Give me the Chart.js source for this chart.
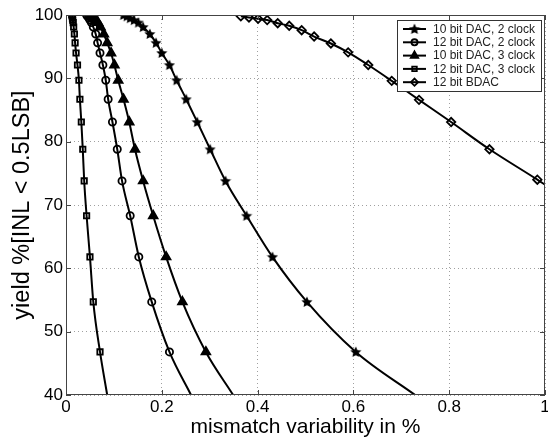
<!DOCTYPE html>
<html>
<head>
<meta charset="utf-8">
<script src="https://cdn.jsdelivr.net/npm/chart.js@4"></script>
<style>
  html, body { margin: 0; padding: 0; background: #fff; }
  #wrap { width: 548px; height: 441px; }
</style>
</head>
<body>
<div id="wrap"><canvas id="yieldChart" width="548" height="441"></canvas></div>
<script>
const FONT = "'Liberation Sans', Arial, Helvetica, sans-serif";

// yield levels where the markers sit (same for the four DAC curves), last one = end of line
const yieldLevels = [100, 99.8, 99.5, 99.2, 98.8, 98.1, 97.0, 95.6, 94.0, 92.1, 89.7, 86.7, 83.1, 78.8, 73.8, 68.3, 61.8, 54.7, 46.8, 40];

const dac10clk2 = [0.120, 0.127, 0.134, 0.142, 0.151, 0.161, 0.175, 0.188, 0.200, 0.216, 0.231, 0.251, 0.274, 0.301, 0.333, 0.377, 0.431, 0.503, 0.605, 0.729];
const dac12clk2 = [0.043, 0.045, 0.048, 0.050, 0.053, 0.057, 0.062, 0.066, 0.071, 0.077, 0.083, 0.088, 0.097, 0.107, 0.117, 0.134, 0.152, 0.179, 0.216, 0.261];
const dac10clk3 = [0.052, 0.055, 0.059, 0.063, 0.067, 0.072, 0.079, 0.086, 0.094, 0.101, 0.109, 0.120, 0.132, 0.144, 0.161, 0.182, 0.209, 0.243, 0.292, 0.349];
const dac12clk3 = [0.012, 0.013, 0.0135, 0.014, 0.015, 0.016, 0.0175, 0.019, 0.021, 0.024, 0.027, 0.029, 0.032, 0.035, 0.038, 0.043, 0.050, 0.057, 0.071, 0.086];

const bdacX = [0.365, 0.382, 0.401, 0.420, 0.442, 0.466, 0.492, 0.518, 0.553, 0.589, 0.631, 0.680, 0.737, 0.804, 0.884, 0.984, 1.0];
const bdacY = [99.8, 99.6, 99.4, 99.2, 98.7, 98.3, 97.6, 96.6, 95.5, 94.1, 92.1, 89.6, 86.6, 83.1, 78.8, 74.0, 73.2];

const xTicks = [0, 0.2, 0.4, 0.6, 0.8, 1];
const yTicks = [40, 50, 60, 70, 80, 90, 100];

// filled star marker
function starMarker() {
    const c = document.createElement('canvas');
    c.width = 12; c.height = 12;
    const g = c.getContext('2d');
    g.fillStyle = '#000';
    g.beginPath();
    for (let i = 0; i < 10; i++) {
        const r = i % 2 === 0 ? 5.8 : 2.8;
        const a = -Math.PI / 2 + i * Math.PI / 5;
        const px = 6 + r * Math.cos(a), py = 6.4 + r * Math.sin(a);
        if (i === 0) g.moveTo(px, py); else g.lineTo(px, py);
    }
    g.closePath();
    g.fill();
    return c;
}
const STAR = starMarker();

function pts(xs, ys) {
    return xs.map((x, i) => ({ x: x, y: ys[i] }));
}

function series(label, data, style, radius, fill) {
    return {
        label: label,
        data: data,
        showLine: true,
        borderColor: '#000',
        borderWidth: 2,
        cubicInterpolationMode: 'monotone',
        pointStyle: style,
        pointRadius: ctx => ctx.dataIndex === data.length - 1 ? 0 : radius,
        pointHoverRadius: 0,
        pointBorderColor: '#000',
        pointBorderWidth: 1.8,
        pointBackgroundColor: fill ? '#000' : 'rgba(0,0,0,0)',
        legendRadius: radius
    };
}

const datasets = [
    series('10 bit DAC, 2 clock', pts(dac10clk2, yieldLevels), STAR, 4, true),
    series('12 bit DAC, 2 clock', pts(dac12clk2, yieldLevels), 'circle', 3.6, false),
    series('10 bit DAC, 3 clock', pts(dac10clk3, yieldLevels), 'triangle', 5, true),
    series('12 bit DAC, 3 clock', pts(dac12clk3, yieldLevels), 'rect', 3.8, false),
    series('12 bit BDAC', pts(bdacX, bdacY), 'rectRot', 4.2, false)
];

// box around the axes with inward ticks, matlab style
const framePlugin = {
    id: 'frame',
    afterDatasetsDraw(chart) {
        const { ctx, chartArea: a, scales } = chart;
        ctx.save();
        ctx.strokeStyle = '#444';
        ctx.lineWidth = 1;
        ctx.strokeRect(a.left + 0.5, a.top + 0.5, a.right - a.left - 1, a.bottom - a.top - 1);
        ctx.beginPath();
        xTicks.forEach(v => {
            const x = Math.round(scales.x.getPixelForValue(v)) + 0.5;
            ctx.moveTo(x, a.bottom); ctx.lineTo(x, a.bottom - 5);
            ctx.moveTo(x, a.top); ctx.lineTo(x, a.top + 5);
        });
        yTicks.forEach(v => {
            const y = Math.round(scales.y.getPixelForValue(v)) + 0.5;
            ctx.moveTo(a.left, y); ctx.lineTo(a.left + 5, y);
            ctx.moveTo(a.right, y); ctx.lineTo(a.right - 5, y);
        });
        ctx.stroke();
        ctx.restore();
    }
};

// legend box inside the plot, top right
const legendPlugin = {
    id: 'boxLegend',
    afterDraw(chart) {
        const ctx = chart.ctx;
        const bx = 397, by = 20, bw = 144, bh = 71;
        ctx.save();
        ctx.fillStyle = '#fff';
        ctx.fillRect(bx, by, bw, bh);
        ctx.strokeStyle = '#333';
        ctx.lineWidth = 1;
        ctx.strokeRect(bx + 0.5, by + 0.5, bw, bh);
        ctx.font = '12px ' + FONT;
        ctx.textBaseline = 'middle';
        chart.data.datasets.forEach((ds, i) => {
            const y = by + 9 + i * 13.3;
            ctx.strokeStyle = '#000';
            ctx.lineWidth = 2;
            ctx.beginPath();
            ctx.moveTo(bx + 6, y); ctx.lineTo(bx + 29, y);
            ctx.stroke();
            ctx.fillStyle = ds.pointBackgroundColor;
            ctx.strokeStyle = ds.pointBorderColor;
            ctx.lineWidth = ds.pointBorderWidth;
            Chart.helpers.drawPoint(ctx, {
                pointStyle: ds.pointStyle,
                radius: ds.legendRadius * 0.85,
                borderWidth: ds.pointBorderWidth,
                rotation: 0
            }, bx + 17.5, y);
            ctx.fillStyle = '#222';
            ctx.fillText(ds.label, bx + 36, y + 0.5);
        });
        ctx.restore();
    }
};

new Chart(document.getElementById('yieldChart'), {
    type: 'scatter',
    data: { datasets: datasets },
    options: {
        responsive: false,
        animation: false,
        events: [],
        layout: { autoPadding: false, padding: { top: 15, right: 3, left: 0, bottom: 0 } },
        plugins: {
            legend: { display: false },
            tooltip: { enabled: false }
        },
        scales: {
            x: {
                type: 'linear',
                min: 0,
                max: 1,
                afterFit(scale) {
                    scale.height = 46;
                    scale.paddingLeft = 0;
                    scale.paddingRight = 0;
                },
                afterBuildTicks(scale) {
                    scale.ticks = xTicks.map(v => ({ value: v }));
                },
                ticks: {
                    color: '#000',
                    padding: 2,
                    maxRotation: 0,
                    autoSkip: false,
                    font: { family: FONT, size: 17 },
                    callback: v => String(v)
                },
                grid: { color: '#a0a0a0', lineWidth: 1, drawTicks: false },
                border: { display: false, dash: [1, 3] },
                title: {
                    display: true,
                    text: 'mismatch variability in %',
                    color: '#000',
                    font: { family: FONT, size: 21 },
                    padding: { top: 0, bottom: 1 }
                }
            },
            y: {
                type: 'linear',
                min: 40,
                max: 100,
                afterFit(scale) {
                    scale.width = 66;
                },
                afterBuildTicks(scale) {
                    scale.ticks = yTicks.map(v => ({ value: v }));
                },
                ticks: {
                    color: '#000',
                    padding: 3,
                    font: { family: FONT, size: 17 },
                    callback: v => String(v)
                },
                grid: { color: '#a0a0a0', lineWidth: 1, drawTicks: false },
                border: { display: false, dash: [1, 3] },
                title: {
                    display: true,
                    text: 'yield %[INL < 0.5LSB]',
                    color: '#000',
                    font: { family: FONT, size: 23.5 },
                    padding: { top: 8, bottom: 0 }
                }
            }
        }
    },
    plugins: [framePlugin, legendPlugin]
});
</script>
</body>
</html>
